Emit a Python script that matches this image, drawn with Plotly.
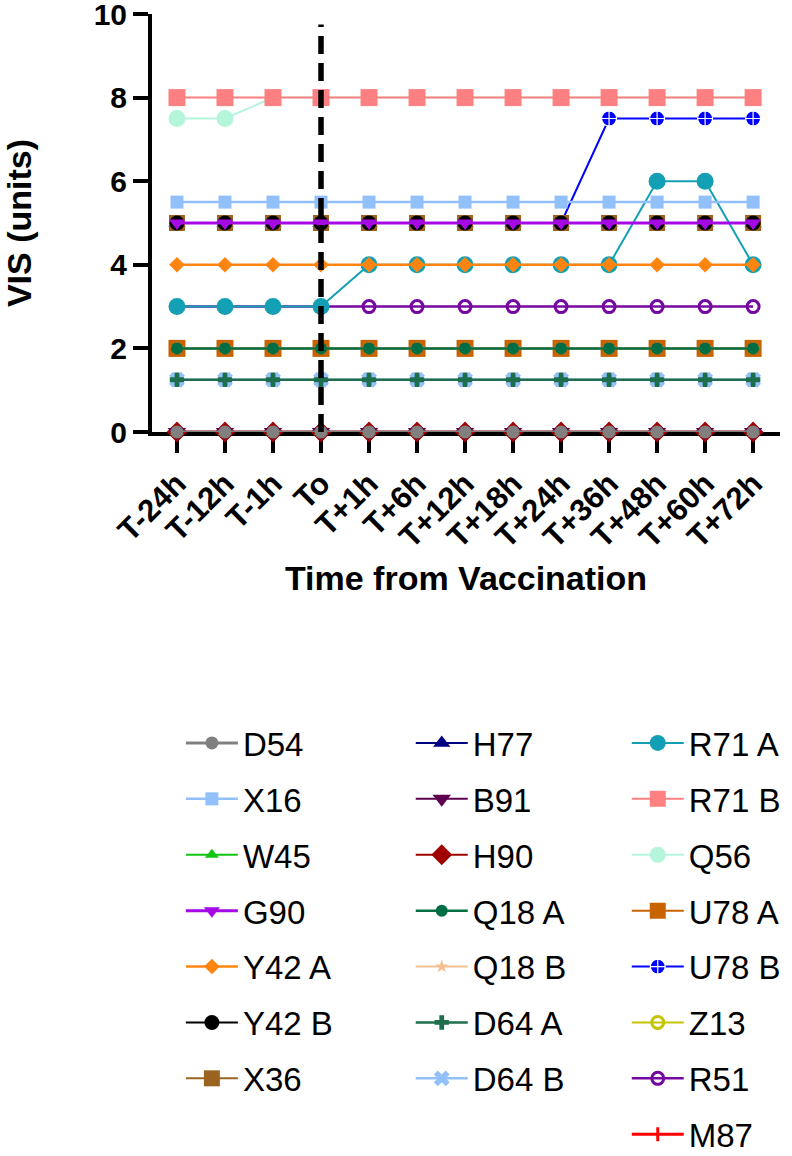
import plotly.graph_objects as go

categories = ["T-24h", "T-12h", "T-1h", "To", "T+1h", "T+6h", "T+12h",
              "T+18h", "T+24h", "T+36h", "T+48h", "T+60h", "T+72h"]

series_names = ["D54", "X16", "W45", "G90", "Y42 A", "Y42 B", "X36",
                "H77", "B91", "H90", "Q18 A", "Q18 B", "D64 A", "D64 B",
                "R71 A", "R71 B", "Q56", "U78 A", "U78 B", "Z13", "R51", "M87"]

D54 = [0, 0, 0, 0, 0, 0, 0, 0, 0, 0, 0, 0, 0]
X16 = [5.5, 5.5, 5.5, 5.5, 5.5, 5.5, 5.5, 5.5, 5.5, 5.5, 5.5, 5.5, 5.5]
W45 = [0, 0, 0, 0, 0, 0, 0, 0, 0, 0, 0, 0, 0]
G90 = [5, 5, 5, 5, 5, 5, 5, 5, 5, 5, 5, 5, 5]
Y42_A = [4, 4, 4, 4, 4, 4, 4, 4, 4, 4, 4, 4, 4]
Y42_B = [5, 5, 5, 5, 5, 5, 5, 5, 5, 5, 5, 5, 5]
X36 = [5, 5, 5, 5, 5, 5, 5, 5, 5, 5, 5, 5, 5]
H77 = [5, 5, 5, 5, 5, 5, 5, 5, 5, 5, 5, 5, 5]
B91 = [0, 0, 0, 0, 0, 0, 0, 0, 0, 0, 0, 0, 0]
H90 = [0, 0, 0, 0, 0, 0, 0, 0, 0, 0, 0, 0, 0]
Q18_A = [2, 2, 2, 2, 2, 2, 2, 2, 2, 2, 2, 2, 2]
Q18_B = [2, 2, 2, 2, 2, 2, 2, 2, 2, 2, 2, 2, 2]
D64_A = [1.25, 1.25, 1.25, 1.25, 1.25, 1.25, 1.25, 1.25, 1.25, 1.25, 1.25, 1.25, 1.25]
D64_B = [1.25, 1.25, 1.25, 1.25, 1.25, 1.25, 1.25, 1.25, 1.25, 1.25, 1.25, 1.25, 1.25]
R71_A = [3, 3, 3, 3, 4, 4, 4, 4, 4, 4, 6, 6, 4]
R71_B = [8, 8, 8, 8, 8, 8, 8, 8, 8, 8, 8, 8, 8]
Q56 = [7.5, 7.5, 8, 8, 8, 8, 8, 8, 8, 8, 8, 8, 8]
U78_A = [2, 2, 2, 2, 2, 2, 2, 2, 2, 2, 2, 2, 2]
U78_B = [5, 5, 5, 5, 5, 5, 5, 5, 5, 7.5, 7.5, 7.5, 7.5]
Z13 = [2, 2, 2, 2, 2, 2, 2, 2, 2, 2, 2, 2, 2]
R51 = [3, 3, 3, 3, 3, 3, 3, 3, 3, 3, 3, 3, 3]
M87 = [0, 0, 0, 0, 0, 0, 0, 0, 0, 0, 0, 0, 0]

values = [D54, X16, W45, G90, Y42_A, Y42_B, X36, H77, B91, H90, Q18_A, Q18_B,
          D64_A, D64_B, R71_A, R71_B, Q56, U78_A, U78_B, Z13, R51, M87]

vaccination_time = "To"

# style: (color, symbol, marker size, line width, marker line color, marker line width)
styles = [
    ("#808080", "circle", 13, 3, None, 0),
    ("#92C0FA", "square", 13, 2.5, None, 0),
    ("#12C412", "triangle-up", 12, 2, None, 0),
    ("#A50AE6", "triangle-down", 14, 3, None, 0),
    ("#FF8410", "diamond", 12, 2.5, None, 0),
    ("#000000", "circle", 15, 2, None, 0),
    ("#9A6420", "square", 16, 2, None, 0),
    ("#000080", "triangle-up", 15, 2, None, 0),
    ("#5E0050", "triangle-down", 16, 2, None, 0),
    ("#A00000", "diamond", 16, 2, None, 0),
    ("#006E45", "circle", 12, 2.5, None, 0),
    ("#F2C090", "star", 10, 2, None, 0),
    ("#1E6E4E", "cross", 12, 2.5, None, 0),
    ("#92C0FA", "x", 14, 2.5, None, 0),
    ("#14A0B4", "circle", 17, 2, None, 0),
    ("#FF8080", "square", 17, 2, None, 0),
    ("#B4F5DC", "circle", 17, 2, None, 0),
    ("#C86400", "square", 17, 2, None, 0),
    ("#0000FF", "circle-cross", 15, 2, "#FFFFFF", 1.2),
    ("#C4C400", "circle-open", 12, 2, "#C4C400", 3),
    ("#7408A0", "circle-open", 12, 2.5, "#7408A0", 3),
    ("#FF0000", "line-ns-open", 10, 3, "#FF0000", 3),
]

legend_of = ["legend"] * 7 + ["legend2"] * 7 + ["legend3"] * 8

FONT = "Liberation Sans, Arial, Helvetica, sans-serif"

fig = go.Figure()
n = len(series_names)
# add in reverse so that the first series is drawn on top
for i in reversed(range(n)):
    name, vals, st, lg = series_names[i], values[i], styles[i], legend_of[i]
    color, symbol, msize, lw, mlc, mlw = st
    marker = dict(symbol=symbol, size=msize, color=color)
    if mlc is not None:
        marker["line"] = dict(color=mlc, width=mlw)
    else:
        marker["line"] = dict(width=0)
    fig.add_trace(go.Scatter(
        x=categories, y=vals, name=name, mode="lines+markers",
        line=dict(color=color, width=lw), marker=marker,
        legend=lg, legendgroup=name, legendrank=i + 1, cliponaxis=False,
    ))

xi = categories.index(vaccination_time)
fig.add_shape(type="line", xref="x", yref="y", x0=xi, x1=xi, y0=0, y1=9.75,
              line=dict(color="black", width=5.5, dash="18px,9px"), layer="above")

legend_common = dict(
    orientation="v", xanchor="left", yanchor="top",
    font=dict(family=FONT, size=33, color="black"),
    bgcolor="rgba(0,0,0,0)", borderwidth=0, itemwidth=52,
    traceorder="grouped", tracegroupgap=10, itemclick=False,
)
fig.update_layout(
    legend=dict(x=0.046, y=-0.677, **legend_common),
    legend2=dict(x=0.412, y=-0.677, **legend_common),
    legend3=dict(x=0.756, y=-0.677, **legend_common),
)

fig.update_layout(
    width=792, height=1156,
    margin=dict(l=152, r=12, t=14, b=724, autoexpand=False),
    paper_bgcolor="white", plot_bgcolor="white",
    font=dict(family=FONT, color="black"),
    xaxis=dict(
        type="category", categoryorder="array", categoryarray=categories,
        range=[-0.52, 12.56], showgrid=False, zeroline=False,
        showline=True, linecolor="black", linewidth=4,
        ticks="outside", ticklen=17, tickwidth=4, tickcolor="black",
        tickangle=-45, tickfont=dict(family=FONT, size=31, color="black", weight="bold"),
        title=dict(text="Time from Vaccination", standoff=14,
                   font=dict(family=FONT, size=34, color="black", weight="bold")),
        layer="below traces", automargin=False,
    ),
    yaxis=dict(
        range=[0, 10], dtick=2, showgrid=False, zeroline=False,
        showline=True, linecolor="black", linewidth=4,
        ticks="outside", ticklen=15, tickwidth=4, tickcolor="black",
        ticklabeloverflow="allow",
        tickfont=dict(family=FONT, size=30, color="black", weight="bold"),
        title=dict(text="VIS (units)", standoff=64,
                   font=dict(family=FONT, size=34, color="black", weight="bold")),
        automargin=False,
    ),
    showlegend=True,
)

fig.write_html(
    "out.html",
    config={"displayModeBar": False},
    post_script="document.body.style.margin='0';document.documentElement.style.overflow='hidden';",
)
